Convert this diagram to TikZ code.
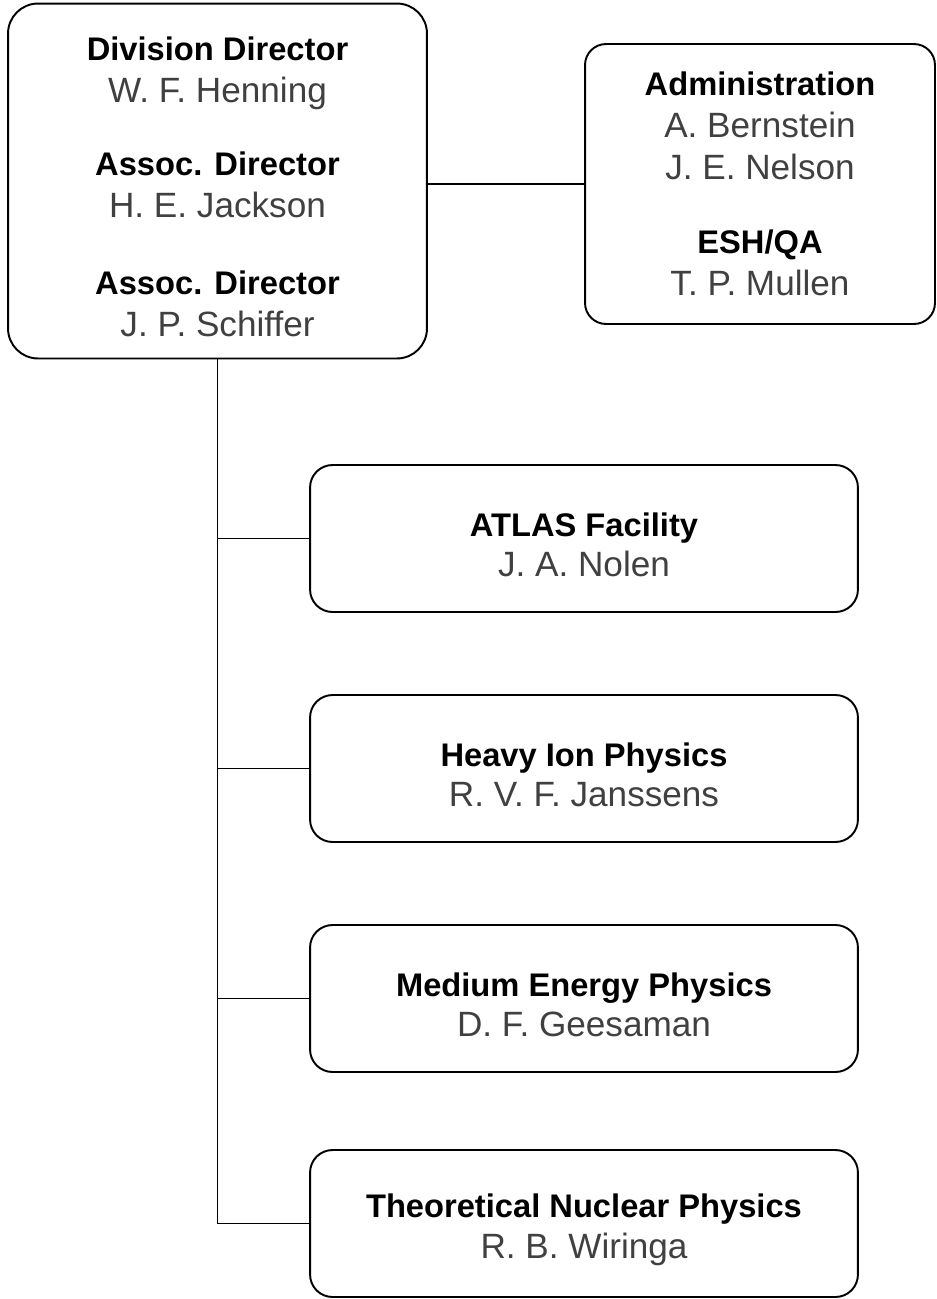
\documentclass[tikz,border=0pt]{standalone}
\usepackage{fontspec}
\setmainfont{Liberation Sans}
\usetikzlibrary{positioning}
\tikzset{
  orgbox/.style={rectangle, draw=black, line width=1.1pt, align=center,
                 font=\fontsize{18.6}{24}\selectfont, inner sep=0pt},
  dirbox/.style={orgbox, rounded corners=0.6cm, minimum width=8.38cm, minimum height=7.10cm},
  staffbox/.style={orgbox, rounded corners=0.42cm, minimum width=7.00cm, minimum height=5.60cm},
  grpbox/.style={orgbox, rounded corners=0.45cm, minimum width=10.96cm, minimum height=2.94cm,
                 font=\fontsize{18.6}{23}\selectfont},
  link/.style={line width=1.05pt, draw=black},
}
\newcommand{\ttl}[1]{\textbf{#1}}
\newcommand{\nm}[1]{{\fontsize{20}{23}\selectfont\textcolor{black!75}{#1}}}

\begin{document}
\begin{tikzpicture}[x=0.02cm, y=-0.02cm]
\useasboundingbox (0,0) rectangle (937,1299);

% ---- top: director and staff ----
\node[dirbox] (dir) at (217.5,181)
  {\rule{0pt}{20pt}\ttl{Division Director}\\\nm{W. F. Henning}\\[17.5pt]
   \ttl{Assoc. Director}\\\nm{H. E. Jackson}\\[19.5pt]
   \ttl{Assoc. Director}\\\nm{J. P. Schiffer}};
\node[staffbox] (adm) at (760,184)
  {\ttl{Administration}\\\nm{A. Bernstein}\\\nm{J. E. Nelson}\\[18pt]
   \ttl{ESH/QA}\\\nm{T. P. Mullen}};
\draw[link] (dir.east |- adm.west) -- (adm.west);

% ---- research groups ----
\foreach \i/\y/\t/\w in {1/538.5/{ATLAS Facility}/{J. A. Nolen},
                         2/768.5/{Heavy Ion Physics}/{R. V. F. Janssens},
                         3/998.5/{Medium Energy Physics}/{D. F. Geesaman},
                         4/1223.5/{Theoretical Nuclear Physics}/{R. B. Wiringa}}
  \node[grpbox] (g\i) at (584,\y) {\rule{0pt}{20.5pt}\ttl{\t}\\\nm{\w}};

\draw[link] (dir.south) |- (g4.west);
\foreach \i in {1,2,3}
  \draw[link] (dir.south |- g\i.west) -- (g\i.west);

\end{tikzpicture}
\end{document}
